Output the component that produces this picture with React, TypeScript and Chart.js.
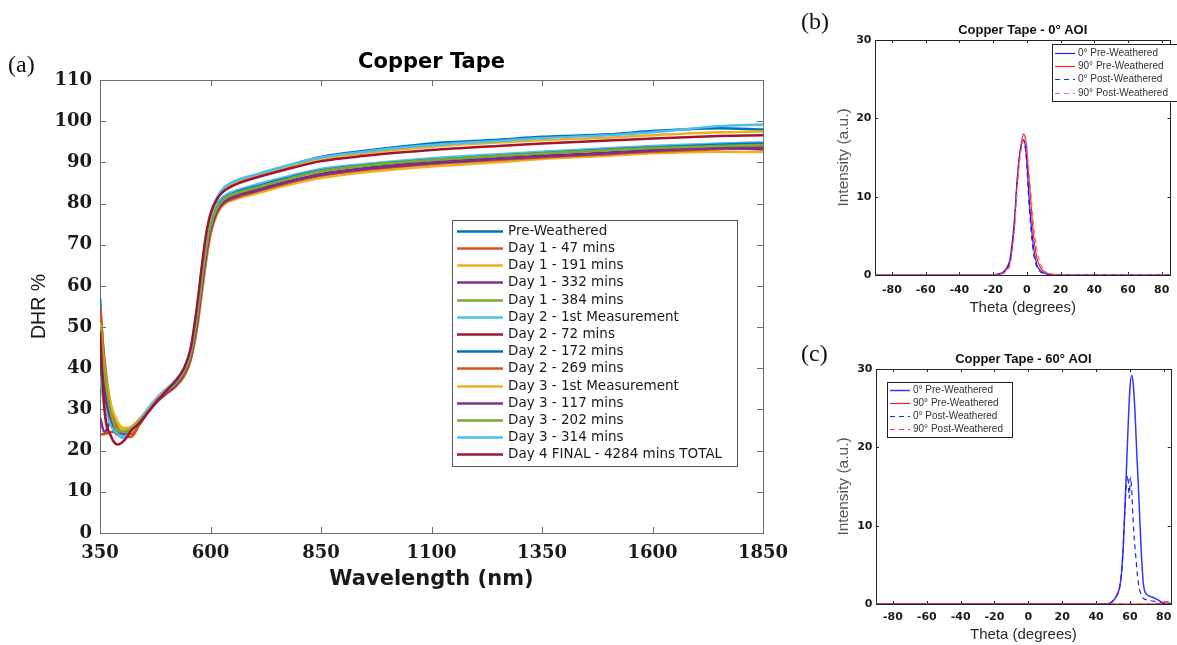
import React, { useEffect, useRef } from "react";
import { Chart, registerables } from "chart.js";

Chart.register(...registerables);

// ---------------- Panel (a): DHR spectra ----------------
const wavelengths = [350, 360, 375, 390, 405, 420, 440, 460, 480, 500, 520, 540, 555, 570, 580, 590, 600, 615, 630, 660, 700, 775, 850, 950, 1100, 1250, 1350, 1500, 1600, 1750, 1850];

const seriesNames = [
  "Pre-Weathered",
  "Day 1 - 47 mins",
  "Day 1 - 191 mins",
  "Day 1 - 332 mins",
  "Day 1 - 384 mins",
  "Day 2 - 1st Measurement",
  "Day 2 - 72 mins",
  "Day 2 - 172 mins",
  "Day 2 - 269 mins",
  "Day 3 - 1st Measurement",
  "Day 3 - 117 mins",
  "Day 3 - 202 mins",
  "Day 3 - 314 mins",
  "Day 4 FINAL - 4284 mins TOTAL",
];

const preWeathered = [57, 40, 29, 25, 24.5, 25.5, 27.5, 30, 32.5, 34.5, 36.5, 39.5, 44, 54, 63, 71, 76.5, 81, 83.5, 85.5, 86.8, 89.2, 91.3, 92.8, 94.6, 95.5, 96.2, 96.8, 97.6, 98.3, 98.0];
const day1_47 = [24, 24, 24.5, 24.5, 23.5, 23.3, 26.5, 29.5, 32, 34, 35.5, 38, 42, 50, 58, 66, 72.5, 77.5, 79.8, 81.3, 82.6, 85, 86.8, 88.2, 89.6, 90.7, 91.3, 92.1, 92.8, 93.4, 93.8];
const day1_191 = [54, 42, 31, 26.5, 25, 25.5, 27.5, 29.5, 32, 34, 35.5, 38.2, 42.5, 51, 59, 67, 73, 77.8, 79.8, 81.2, 82.3, 84.5, 86.2, 87.6, 89, 90, 90.8, 91.6, 92.2, 92.6, 92.5];
const day1_332 = [28, 24.5, 27, 24.5, 24.5, 25.5, 27.5, 30, 32.5, 34.5, 36, 39, 43, 52, 60, 68, 74, 78.5, 80.5, 82, 83.2, 85.4, 87.2, 88.6, 90, 91, 91.6, 92.4, 93, 93.5, 93.2];
const day1_384 = [53, 41, 30, 25.5, 24.5, 25.5, 27.5, 30, 32.5, 34.5, 36.2, 39.2, 43.5, 52.5, 61, 69, 74.5, 79, 81, 82.5, 83.8, 86, 87.8, 89.2, 90.6, 91.6, 92.2, 93, 93.6, 94.2, 94.5];
const day2_1st = [50, 38, 28, 24, 23, 25, 27.5, 30.5, 33, 35, 37, 40, 44.5, 54, 62.5, 70.5, 75.5, 79.8, 81.8, 83.2, 84.5, 86.6, 88.4, 89.6, 91, 92, 92.6, 93.4, 94, 94.6, 94.8];
const day2_72 = [47, 36, 27, 24, 24, 25.2, 27.2, 29.8, 32.3, 34.3, 36, 39, 43, 52, 60, 68, 73.8, 78.2, 80.2, 81.8, 83, 85.2, 87, 88.4, 89.8, 90.8, 91.4, 92.2, 92.8, 93.4, 93.6];
const day2_172 = [42, 33, 26.5, 24, 24, 25, 27.2, 30, 32.5, 34.5, 36.2, 39.2, 43.2, 52.5, 61, 69, 74.5, 79, 81.2, 82.8, 84, 86.2, 88, 89.3, 90.6, 91.6, 92.2, 93.1, 93.6, 94.3, 94.6];
const day2_269 = [55, 42, 30, 25, 24, 24, 26.5, 29.5, 32, 33.8, 35.4, 38.2, 42, 51, 59.5, 67.5, 73.2, 78, 80, 81.5, 82.8, 85, 86.8, 88.2, 89.6, 90.6, 91.2, 92, 92.6, 93.2, 93.8];
const day3_1st = [51, 40, 31, 27, 25.5, 25.8, 27.8, 30.2, 32.8, 34.8, 36.6, 39.6, 44.2, 54.5, 63.5, 71.5, 77, 81.2, 83.5, 85.3, 86.5, 88.8, 90.8, 92.2, 93.8, 94.8, 95.4, 96, 96.6, 97.3, 97.5];
const day3_117 = [45, 35, 27, 24, 24, 25, 27, 29.6, 32, 34, 35.8, 38.8, 42.8, 51.5, 59.8, 67.8, 73.5, 78.2, 80.3, 81.8, 83, 85.2, 87, 88.4, 89.8, 90.8, 91.4, 92.2, 92.8, 93.4, 93.4];
const day3_202 = [50, 39, 29, 25, 24.5, 25.3, 27.4, 30, 32.4, 34.4, 36.2, 39.2, 43.3, 52.6, 61, 69, 74.5, 79, 81, 82.6, 83.8, 86, 87.9, 89.3, 90.6, 91.6, 92.2, 93, 93.5, 94, 94.2];
const day3_314 = [38, 31, 26, 24, 23.5, 24.8, 27.2, 30, 32.6, 34.6, 36.6, 39.8, 44.5, 55, 64, 72, 77.3, 81.5, 83.8, 85.7, 87, 89.3, 91.2, 92.6, 94.2, 95.2, 95.9, 96.6, 97.3, 98.8, 99.2];
const day4_final = [49, 30, 23.5, 21.5, 22.5, 24.8, 26.8, 29.5, 32.2, 34.5, 36.8, 40, 44.8, 55.5, 64.5, 72.5, 77.5, 81.2, 83, 84.8, 86.2, 88.4, 90.3, 91.6, 93, 94, 94.6, 95.3, 95.8, 96.4, 96.6];

const dhrSeries = [preWeathered, day1_47, day1_191, day1_332, day1_384, day2_1st, day2_72, day2_172, day2_269, day3_1st, day3_117, day3_202, day3_314, day4_final];
const matlabColors = ["#0072BD", "#D95319", "#EDB120", "#7E2F8E", "#77AC30", "#4DBEEE", "#A2142F"];

const dhrXTicks = [350, 600, 850, 1100, 1350, 1600, 1850];
const dhrYTicks = [0, 10, 20, 30, 40, 50, 60, 70, 80, 90, 100, 110];

// ---------------- Panel (b): 0° AOI ----------------
const thetaB = [-90, -22, -18, -14, -12, -10, -8, -7, -6, -5, -4, -3, -2, -1, 0, 1, 2, 3, 4, 6, 8, 10, 12, 15, 18, 22, 90];
const bluePreB = [0, 0, 0.1, 0.4, 0.9, 2, 5.5, 8, 11.5, 14, 15.8, 16.8, 17.3, 16.6, 14.5, 11, 8, 5.5, 3.5, 1.3, 0.6, 0.3, 0.1, 0, 0, 0, 0];
const redPreB = [0, 0, 0, 0.3, 0.7, 1.6, 4.8, 7.5, 11, 13.8, 15.8, 17.2, 18, 17.6, 16, 13, 10.5, 7.5, 5, 2.2, 1, 0.5, 0.2, 0.1, 0.05, 0, 0];
const bluePostB = [0, 0, 0.05, 0.3, 0.8, 1.8, 5, 7.6, 11, 13.5, 15.5, 16.6, 17.2, 16.4, 14, 10.2, 7, 4.6, 2.8, 1, 0.4, 0.2, 0.05, 0, 0, 0, 0];
const redPostB = [0, 0, 0, 0.2, 0.5, 1.2, 4, 6.5, 9.8, 12.8, 15, 16.5, 17.5, 17.4, 16.2, 14, 11.5, 9, 6.5, 3.2, 1.5, 0.7, 0.3, 0.1, 0, 0, 0];

// ---------------- Panel (c): 60° AOI ----------------
const thetaBluePreC = [-90, 47, 50, 52, 54, 55, 56, 57, 58, 59, 60, 61, 62, 63, 64, 65, 66, 67, 68, 70, 73, 76, 79, 82, 90];
const bluePreC = [0, 0, 0.4, 1, 2.2, 3.8, 7, 12, 17.5, 23, 27.5, 29.2, 28, 24.5, 19.5, 15, 10, 5.5, 2.5, 1.2, 0.9, 0.6, 0.2, 0, 0];
const thetaBluePostC = [-90, 47, 50, 52, 54, 56, 57, 58, 58.8, 59.6, 60.3, 61, 61.8, 62.5, 63.5, 64.5, 65.5, 66.5, 68, 71, 75, 80, 90];
const bluePostC = [0, 0, 0.4, 1, 2.2, 7, 12, 15.6, 16.4, 13.5, 16.2, 14.8, 11, 8.5, 6, 3.5, 2, 1.3, 0.7, 0.5, 0.3, 0.1, 0];
const thetaRedC = [-90, 70, 78, 80, 82, 84, 86, 90];
const redPreC = [0, 0, 0, 0.05, 0.1, 0.1, 0.05, 0];
const redPostC = [0, 0, 0.05, 0.2, 0.3, 0.2, 0.1, 0];

const aoiNames = ["0° Pre-Weathered", "90° Pre-Weathered", "0° Post-Weathered", "90° Post-Weathered"];
const thetaTicks = [-80, -60, -40, -20, 0, 20, 40, 60, 80];
const intensityTicks = [0, 10, 20, 30];

// ---------------- plugins ----------------
const matlabBox = {
  id: "matlabBox",
  beforeDatasetsDraw(chart: any, _args: any, o: any) {
    if (!o || !o.display) return;
    const { ctx, chartArea: a, scales } = chart;
    const xs = scales.x;
    const ys = scales.y;
    const L = o.tickLen;
    ctx.save();
    ctx.strokeStyle = o.color;
    ctx.lineWidth = 1;
    ctx.beginPath();
    xs.ticks.forEach((t: any) => {
      const px = Math.round(xs.getPixelForValue(t.value)) + 0.5;
      ctx.moveTo(px, a.bottom);
      ctx.lineTo(px, a.bottom - L);
      ctx.moveTo(px, a.top);
      ctx.lineTo(px, a.top + L);
    });
    ys.ticks.forEach((t: any) => {
      const py = Math.round(ys.getPixelForValue(t.value)) + 0.5;
      ctx.moveTo(a.left, py);
      ctx.lineTo(a.left + L, py);
      ctx.moveTo(a.right, py);
      ctx.lineTo(a.right - L, py);
    });
    ctx.stroke();
    ctx.lineWidth = o.borderWidth || 1;
    ctx.strokeRect(Math.round(a.left) + 0.5, Math.round(a.top) + 0.5, Math.round(a.right - a.left), Math.round(a.bottom - a.top));
    ctx.restore();
  },
};

const boxLegend = {
  id: "boxLegend",
  afterDraw(chart: any, _args: any, o: any) {
    if (!o || !o.display) return;
    const ctx = chart.ctx;
    ctx.save();
    ctx.fillStyle = "#ffffff";
    ctx.fillRect(o.x, o.y, o.w, o.h);
    ctx.strokeStyle = o.borderColor;
    ctx.lineWidth = 1;
    ctx.strokeRect(o.x + 0.5, o.y + 0.5, o.w, o.h);
    ctx.font = o.fontStr;
    ctx.textBaseline = "middle";
    ctx.textAlign = "left";
    chart.data.datasets.forEach((ds: any, i: number) => {
      const y = Math.round(o.firstRow + i * o.rowH) + 0.5;
      ctx.strokeStyle = ds.borderColor;
      ctx.lineWidth = o.lineWidth || ds.borderWidth;
      ctx.setLineDash(ds.borderDash || []);
      ctx.beginPath();
      ctx.moveTo(o.lineX1, y);
      ctx.lineTo(o.lineX2, y);
      ctx.stroke();
      ctx.setLineDash([]);
      ctx.fillStyle = o.color;
      ctx.fillText(ds.label, o.textX, y);
    });
    ctx.restore();
  },
};

// ---------------- configs ----------------
const SANS = "'Liberation Sans', Arial, sans-serif";

function configA(): any {
  const n = dhrSeries.length;
  const datasets = dhrSeries.map((vals, i) => ({
    label: seriesNames[i],
    data: wavelengths.map((w, j) => ({ x: w, y: vals[j] })),
    borderColor: matlabColors[i % matlabColors.length],
    backgroundColor: matlabColors[i % matlabColors.length],
    borderWidth: 2.5,
    pointRadius: 0,
    fill: false,
    cubicInterpolationMode: "monotone",
    order: n - i,
  }));
  return {
    type: "line",
    data: { datasets },
    plugins: [matlabBox, boxLegend],
    options: {
      animation: false,
      responsive: false,
      maintainAspectRatio: false,
      events: [],
      layout: { padding: { left: 0, right: 37, top: 0, bottom: 32 } },
      plugins: {
        legend: { display: false },
        tooltip: { enabled: false },
        title: {
          display: true,
          text: "Copper Tape",
          fullSize: false,
          color: "#000",
          font: { family: "'DejaVu Sans'", size: 21, weight: "bold" },
          padding: { top: 50.4, bottom: 4.4 },
        },
        matlabBox: { display: true, color: "#707070", tickLen: 6 },
        boxLegend: {
          display: true,
          x: 452, y: 220, w: 285, h: 246,
          firstRow: 230.7, rowH: 17.2,
          lineX1: 457, lineX2: 503, textX: 508,
          lineWidth: 2.5,
          fontStr: "13.5px 'DejaVu Sans'",
          color: "#1a1a1a",
          borderColor: "#555",
        },
      },
      scales: {
        x: {
          type: "linear",
          min: 350,
          max: 1850,
          afterBuildTicks: (s: any) => { s.ticks = dhrXTicks.map((v) => ({ value: v })); },
          afterFit: (s: any) => { s.height = 80; },
          grid: { display: false, drawTicks: false },
          border: { display: false },
          ticks: {
            autoSkip: false, maxRotation: 0, padding: 10, color: "#1a1a1a",
            font: { family: "'DejaVu Serif'", size: 18, weight: "bold" },
            callback: (v: any) => String(v),
          },
          title: {
            display: true, text: "Wavelength (nm)", color: "#1a1a1a",
            font: { family: "'DejaVu Sans'", size: 21, weight: "bold" },
            padding: { top: 0, bottom: 20.4 },
          },
        },
        y: {
          type: "linear",
          min: 0,
          max: 110,
          afterBuildTicks: (s: any) => { s.ticks = dhrYTicks.map((v) => ({ value: v })); },
          afterFit: (s: any) => { s.width = 100; },
          grid: { display: false, drawTicks: false },
          border: { display: false },
          ticks: {
            autoSkip: false, padding: 8, color: "#1a1a1a",
            font: { family: "'DejaVu Serif'", size: 18, weight: "bold" },
            callback: (v: any) => String(v),
          },
          title: {
            display: true, text: "DHR %", color: "#1a1a1a",
            font: { family: SANS, size: 19.5 },
            padding: { top: 28.3, bottom: 0 },
          },
        },
      },
    },
  };
}

function smallConfig(p: {
  title: string;
  datasets: any[];
  xMax: number;
  titlePad: [number, number];
  xTickPad: number;
  xHeight: number;
  xTitlePadBottom: number;
  yWidth: number;
  layoutBottom: number;
  layoutRight: number;
  legend: any;
}): any {
  return {
    type: "line",
    data: { datasets: p.datasets },
    plugins: [matlabBox, boxLegend],
    options: {
      animation: false,
      responsive: false,
      maintainAspectRatio: false,
      events: [],
      layout: { padding: { left: 0, right: p.layoutRight, top: 0, bottom: p.layoutBottom } },
      plugins: {
        legend: { display: false },
        tooltip: { enabled: false },
        title: {
          display: true,
          text: p.title,
          fullSize: false,
          color: "#111",
          font: { family: SANS, size: 13, weight: "bold" },
          padding: { top: p.titlePad[0], bottom: p.titlePad[1] },
        },
        matlabBox: { display: true, color: "#262626", tickLen: 3 },
        boxLegend: p.legend,
      },
      scales: {
        x: {
          type: "linear",
          min: -90,
          max: p.xMax,
          afterBuildTicks: (s: any) => { s.ticks = thetaTicks.map((v) => ({ value: v })); },
          afterFit: (s: any) => { s.height = p.xHeight; },
          grid: { display: false, drawTicks: false },
          border: { display: false },
          ticks: {
            autoSkip: false, maxRotation: 0, padding: p.xTickPad, color: "#1a1a1a",
            font: { family: "'DejaVu Sans'", size: 11, weight: "bold" },
            callback: (v: any) => String(v),
          },
          title: {
            display: true, text: "Theta (degrees)", color: "#2a2a2a",
            font: { family: SANS, size: 15 },
            padding: { top: 0, bottom: p.xTitlePadBottom },
          },
        },
        y: {
          type: "linear",
          min: 0,
          max: 30,
          afterBuildTicks: (s: any) => { s.ticks = intensityTicks.map((v) => ({ value: v })); },
          afterFit: (s: any) => { s.width = p.yWidth; },
          grid: { display: false, drawTicks: false },
          border: { display: false },
          ticks: {
            autoSkip: false, padding: 3.5, color: "#1a1a1a",
            font: { family: "'DejaVu Sans'", size: 11, weight: "bold" },
            callback: (v: any) => String(v),
          },
          title: {
            display: true, text: "Intensity (a.u.)", color: "#555",
            font: { family: SANS, size: 15.5 },
            padding: { top: 34.7, bottom: 0 },
          },
        },
      },
    },
  };
}

function lineDs(label: string, xs: number[], ys: number[], color: string, dash: number[] | undefined, width: number, order: number) {
  return {
    label,
    data: xs.map((x, j) => ({ x, y: ys[j] })),
    borderColor: color,
    backgroundColor: color,
    borderWidth: width,
    borderDash: dash,
    pointRadius: 0,
    fill: false,
    cubicInterpolationMode: "monotone",
    order,
  };
}

function configB(): any {
  const datasets = [
    lineDs(aoiNames[0], thetaB, bluePreB, "#1f1fff", undefined, 1.2, 4),
    lineDs(aoiNames[1], thetaB, redPreB, "#ff2020", undefined, 1.2, 3),
    lineDs(aoiNames[2], thetaB, bluePostB, "#1f1fff", [5, 4], 1.2, 2),
    lineDs(aoiNames[3], thetaB, redPostB, "#ff6a6a", [5, 4], 1.2, 1),
  ];
  return smallConfig({
    title: "Copper Tape - 0° AOI",
    datasets,
    xMax: 85.2,
    titlePad: [22.2, 2.2],
    xTickPad: 8.4,
    xHeight: 50,
    xTitlePadBottom: 8,
    yWidth: 75,
    layoutBottom: 5,
    layoutRight: 2,
    legend: {
      display: true,
      x: 252, y: 44, w: 140, h: 57,
      firstRow: 52.7, rowH: 13.3,
      lineX1: 255, lineX2: 275, textX: 278,
      fontStr: `10px ${SANS}`,
      color: "#333",
      borderColor: "#222",
    },
  });
}

function configC(): any {
  const datasets = [
    lineDs(aoiNames[0], thetaBluePreC, bluePreC, "#3535ff", undefined, 1.5, 4),
    lineDs(aoiNames[1], thetaRedC, redPreC, "#ff1f1f", undefined, 1.2, 3),
    lineDs(aoiNames[2], thetaBluePostC, bluePostC, "#2020ff", [5, 4], 1.2, 2),
    lineDs(aoiNames[3], thetaRedC, redPostC, "#ff3030", [5, 4], 1.2, 1),
  ];
  return smallConfig({
    title: "Copper Tape - 60° AOI",
    datasets,
    xMax: 84.1,
    titlePad: [21.2, 2.2],
    xTickPad: 6.4,
    xHeight: 40,
    xTitlePadBottom: 0,
    yWidth: 76,
    layoutBottom: 1,
    layoutRight: 2,
    legend: {
      display: true,
      x: 87, y: 52, w: 125, h: 55,
      firstRow: 60, rowH: 13,
      lineX1: 90, lineX2: 110, textX: 113,
      fontStr: `10px ${SANS}`,
      color: "#333",
      borderColor: "#222",
    },
  });
}

const labelStyle: React.CSSProperties = {
  position: "absolute",
  fontFamily: "'Liberation Serif', 'Times New Roman', serif",
  fontSize: 24,
  lineHeight: "24px",
  color: "#111",
};

export default function App() {
  const aRef = useRef<HTMLCanvasElement>(null);
  const bRef = useRef<HTMLCanvasElement>(null);
  const cRef = useRef<HTMLCanvasElement>(null);

  useEffect(() => {
    const charts = [
      new Chart(aRef.current as HTMLCanvasElement, configA()),
      new Chart(bRef.current as HTMLCanvasElement, configB()),
      new Chart(cRef.current as HTMLCanvasElement, configC()),
    ];
    return () => charts.forEach((c) => c.destroy());
  }, []);

  return (
    <div style={{ position: "absolute", left: 0, top: 0, width: 1177, height: 645, overflow: "hidden", background: "#fff" }}>
      <canvas ref={aRef} width={800} height={645} style={{ position: "absolute", left: 0, top: 0 }} />
      <canvas ref={bRef} width={378} height={330} style={{ position: "absolute", left: 800, top: 0 }} />
      <canvas ref={cRef} width={378} height={315} style={{ position: "absolute", left: 800, top: 330 }} />
      <div style={{ ...labelStyle, left: 8, top: 52 }}>(a)</div>
      <div style={{ ...labelStyle, left: 801, top: 9 }}>(b)</div>
      <div style={{ ...labelStyle, left: 801, top: 341 }}>(c)</div>
    </div>
  );
}
